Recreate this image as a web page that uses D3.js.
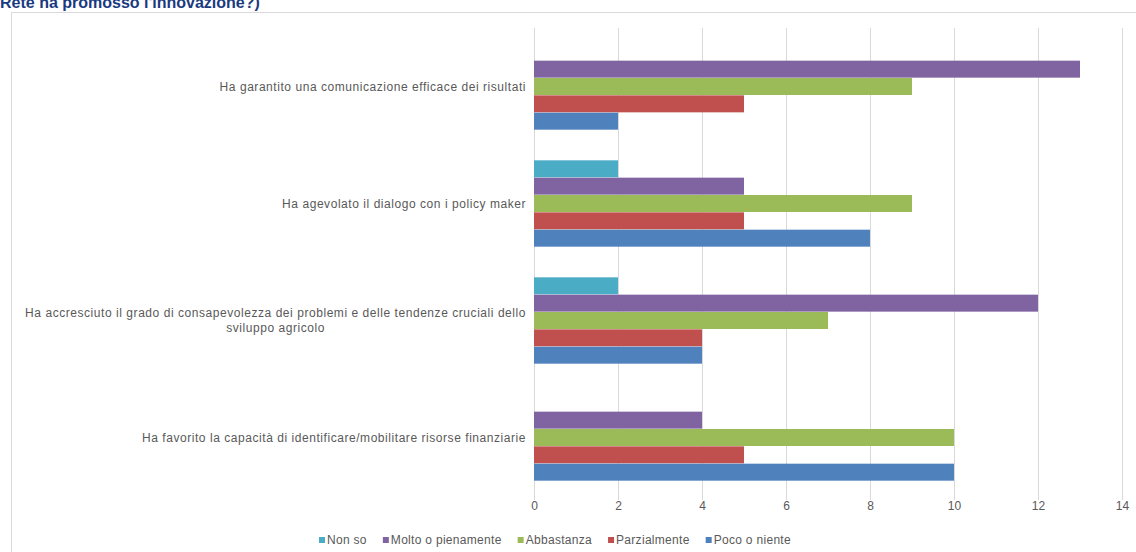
<!DOCTYPE html>
<html><head><meta charset="utf-8">
<script src="https://cdn.jsdelivr.net/npm/d3@7"></script>
<style>
html,body{margin:0;padding:0;background:#fff;}
svg{display:block;font-family:"Liberation Sans",Arial,sans-serif;}
</style></head>
<body>
<svg id="chart" width="1136" height="552"></svg>
<script>
const title = "Rete ha promosso l'innovazione?)";
const categories = [
  "Ha garantito una comunicazione efficace dei risultati",
  "Ha agevolato il dialogo con i policy maker",
  "Ha accresciuto il grado di consapevolezza dei problemi e delle tendenze cruciali dello sviluppo agricolo",
  "Ha favorito la capacità di identificare/mobilitare risorse finanziarie"
];
const categoryLines = [
  ["Ha garantito una comunicazione efficace dei risultati"],
  ["Ha agevolato il dialogo con i policy maker"],
  ["Ha accresciuto il grado di consapevolezza dei problemi e delle tendenze cruciali dello", "sviluppo agricolo"],
  ["Ha favorito la capacità di identificare/mobilitare risorse finanziarie"]
];
const seriesNames = ["Non so", "Molto o pienamente", "Abbastanza", "Parzialmente", "Poco o niente"];
const seriesColors = ["#4bacc6", "#8064a2", "#9bbb59", "#c0504d", "#4f81bd"];
const nonSo = [0, 2, 2, 0];
const moltoPienamente = [13, 5, 12, 4];
const abbastanza = [9, 9, 7, 10];
const parzialmente = [5, 5, 4, 5];
const pocoNiente = [2, 8, 4, 10];
const xTicks = [0, 2, 4, 6, 8, 10, 12, 14];

const seriesValues = [nonSo, moltoPienamente, abbastanza, parzialmente, pocoNiente];

const svg = d3.select("#chart");
const W = 1136, H = 552;
const plot = {left: 534, right: 1122, top: 28, bottom: 496};

// frame
svg.append("rect").attr("x", 11.5).attr("y", 12.5).attr("width", W).attr("height", H)
  .attr("fill", "#fff").attr("stroke", "#d9d9d9").attr("stroke-width", 1);

// title (partially clipped at top, as in the reference)
svg.append("text").attr("x", 0).attr("y", 8)
  .attr("font-size", 16).attr("font-weight", "bold").attr("fill", "#1a3a80")
  .text(title);

const x = d3.scaleLinear().domain([0, 14]).range([plot.left, plot.right]);
const y0 = d3.scaleBand().domain(categories).range([plot.top, plot.bottom]).paddingInner(0.256).paddingOuter(0.128);
const y1 = d3.scaleBand().domain(seriesNames).range([0, y0.bandwidth()]).padding(0.02);

// gridlines + tick labels
const ax = d3.axisBottom(x).tickValues(xTicks).tickSize(plot.bottom - plot.top + 4).tickFormat(d3.format("d"));
const gx = svg.append("g").attr("transform", `translate(0,${plot.top})`).call(ax);
gx.select(".domain").remove();
gx.selectAll(".tick line").attr("stroke", "#d9d9d9").attr("stroke-width", 1);
gx.selectAll(".tick text").attr("fill", "#595959").attr("font-size", 12)
  .attr("font-family", "Liberation Sans, Arial, sans-serif").attr("dy", "0.6em");

// bars
const groups = svg.append("g").selectAll("g").data(categories).join("g")
  .attr("transform", d => `translate(0,${y0(d)})`);
groups.selectAll("rect").data((d, i) => seriesNames.map((s, j) => ({s, j, v: seriesValues[j][i]})))
  .join("rect")
  .attr("x", x(0))
  .attr("y", d => y1(d.s))
  .attr("width", d => x(d.v) - x(0))
  .attr("height", y1.bandwidth())
  .attr("fill", d => seriesColors[d.j]);

// category labels
const labelRight = 526;
categories.forEach((c, i) => {
  const lines = categoryLines[i];
  const cy = y0(c) + y0.bandwidth() / 2;
  const lh = 15;
  const g = svg.append("g");
  const texts = lines.map((ln, k) => g.append("text")
    .attr("y", cy + (k - (lines.length - 1) / 2) * lh)
    .attr("dy", "0.35em")
    .attr("font-size", 12).attr("letter-spacing", "0.55px").attr("fill", "#595959")
    .text(ln));
  const widths = texts.map(t => t.node().getComputedTextLength());
  const maxW = d3.max(widths);
  const center = labelRight - maxW / 2;
  texts.forEach(t => t.attr("x", center).attr("text-anchor", "middle"));
});

// legend
const legY = 540;
const legend = svg.append("g");
const items = seriesNames.map((s, j) => {
  const g = legend.append("g");
  g.append("rect").attr("x", 0).attr("y", legY - 3).attr("width", 6).attr("height", 6).attr("fill", seriesColors[j]);
  const t = g.append("text").attr("x", 8).attr("y", legY).attr("dy", "0.35em")
    .attr("font-size", 12).attr("letter-spacing", "0.3px").attr("fill", "#595959").text(s);
  return {g, w: 8 + t.node().getComputedTextLength()};
});
const gap = 16;
const total = d3.sum(items, d => d.w) + gap * (items.length - 1);
let cx = 555 - total / 2;
items.forEach(it => { it.g.attr("transform", `translate(${cx},0)`); cx += it.w + gap; });
</script>
</body></html>
